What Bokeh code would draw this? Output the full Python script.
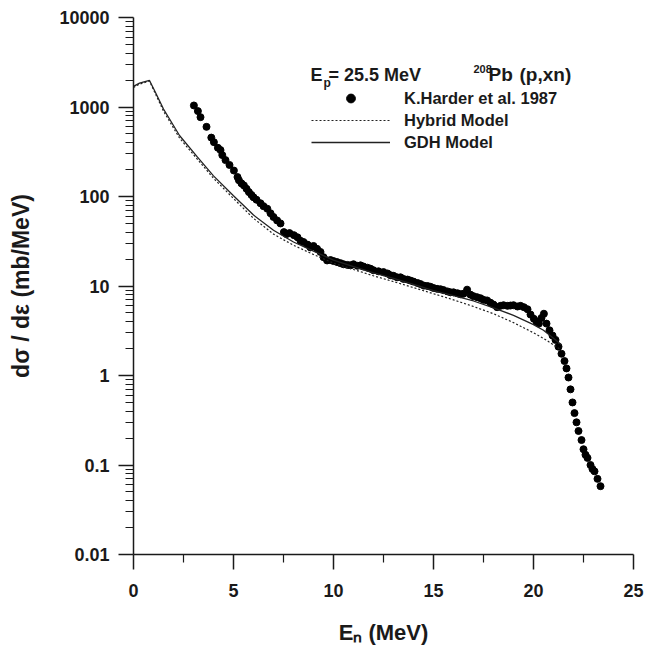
from bokeh.plotting import figure
from bokeh.models import (FixedTicker, CustomJSTickFormatter, Legend, LegendItem,
                          Label, Range1d)
from bokeh.embed import file_html
from bokeh.resources import INLINE

# ---- data ----
harder_e = [3.02, 3.22, 3.35, 3.65, 3.89, 4.02, 4.22, 4.35, 4.44, 4.6, 4.8, 5.02, 5.2, 5.27,
            5.4, 5.52, 5.65, 5.77, 5.9, 6.0, 6.15, 6.35, 6.5, 6.69, 6.85, 7.0, 7.18, 7.35,
            7.52, 7.65, 7.8, 8.02, 8.2, 8.35, 8.5, 8.7, 8.85, 9.0, 9.18, 9.35, 9.5, 9.68,
            9.85, 10.0, 10.18, 10.35, 10.5, 10.7, 10.85, 11.0, 11.2, 11.35, 11.5, 11.7,
            11.85, 12.0, 12.25, 12.5, 12.7, 12.85, 13.0, 13.18, 13.35, 13.5, 13.7, 13.85,
            14.0, 14.2, 14.35, 14.52, 14.7, 14.85, 15.0, 15.18, 15.35, 15.5, 15.7, 15.85,
            16.0, 16.2, 16.35, 16.5, 16.68, 16.85, 17.0, 17.18, 17.35, 17.5, 17.68, 17.85,
            18.0, 18.18, 18.35, 18.5, 18.7, 18.85, 19.0, 19.2, 19.35, 19.52, 19.7, 19.85,
            20.02, 20.15, 20.27, 20.4, 20.52, 20.65, 20.8, 20.95, 21.1, 21.25, 21.4, 21.55,
            21.65, 21.75, 21.85, 21.95, 22.05, 22.15, 22.25, 22.4, 22.5, 22.6, 22.7, 22.85,
            22.95, 23.05, 23.2, 23.35]
harder_v = [1040, 900, 770, 600, 455, 405, 350, 330, 290, 255, 225, 195, 165, 152,
            140, 133, 122, 112, 104, 98, 92, 84, 78, 73, 65, 59, 54, 50,
            40, 38, 39, 37, 35, 32, 31, 29, 27, 28, 26, 24, 21, 19.3,
            19.5, 19, 18.5, 18, 17.5, 17.2, 17, 17.5, 16.8, 17, 16.5, 16,
            15.6, 15, 14.6, 14.3, 13.8, 13.2, 13, 12.5, 12.5, 12, 11.8, 11.5,
            11.2, 10.8, 10.5, 10.1, 10, 9.8, 9.5, 9.3, 9.2, 9.0, 8.7, 8.5,
            8.5, 8.3, 8.1, 8.2, 9.1, 8.0, 7.7, 7.5, 7.3, 7.0, 6.9, 6.5,
            6.2, 5.8, 6.0, 6.1, 6.0, 6.05, 6.1, 5.9, 6.0, 5.8, 5.5, 4.8,
            4.3, 4.0, 3.8, 4.4, 4.9, 3.8, 3.2, 2.8, 2.5, 2.1, 1.75, 1.45,
            1.2, 0.95, 0.7, 0.5, 0.38, 0.3, 0.24, 0.19, 0.15, 0.13, 0.12, 0.1,
            0.09, 0.085, 0.07, 0.058]

gdh_e = [0, 0.3, 0.8, 1.1, 1.5, 2.3, 3.2, 4.0, 5.0, 6.0, 7.0, 8.0, 9.0, 10, 11, 12, 13,
         14, 15, 16, 17, 18, 19, 20, 20.5, 21, 21.4]
gdh_v = [1700, 1850, 1980, 1450, 950, 480, 275, 170, 102, 62, 42, 31, 24.5, 19.5, 16.5,
         14.0, 12.2, 10.4, 8.9, 7.8, 6.8, 5.7, 4.7, 3.7, 3.2, 2.6, 2.2]

hyb_e = [0, 0.3, 0.8, 1.1, 1.5, 2.3, 3.2, 4.0, 5.0, 6.0, 7.0, 8.0, 9.0, 10, 11, 12, 13,
         14, 15, 16, 17, 18, 19, 20, 20.5, 21, 21.35]
hyb_v = [1650, 1800, 1950, 1400, 900, 450, 260, 160, 95, 57, 38, 28.5, 22.5, 18, 15.3,
         13.0, 11.2, 9.6, 8.2, 7.0, 5.9, 4.9, 3.9, 3.0, 2.6, 2.2, 1.95]

x_ticks = [0, 5, 10, 15, 20, 25]
x_minor = [2.5, 7.5, 12.5, 17.5, 22.5]
y_ticks = [0.01, 0.1, 1, 10, 100, 1000, 10000]
y_minor = [m * 10.0 ** k for k in range(-2, 4) for m in range(2, 10)]

FONT = "Liberation Sans"
INK = "#1a1a1a"

p = figure(frame_width=500, frame_height=537, x_range=Range1d(0, 25),
           y_range=Range1d(0.01, 10000), y_axis_type="log",
           output_backend="svg", toolbar_location=None,
           min_border_left=133, min_border_top=17, min_border_bottom=96,
           min_border_right=15)
p.outline_line_color = None
p.grid.visible = False
p.background_fill_color = "white"

xa = p.xaxis[0]
xa.ticker = FixedTicker(ticks=x_ticks, minor_ticks=x_minor)
ya = p.yaxis[0]
ya.ticker = FixedTicker(ticks=y_ticks, minor_ticks=y_minor)
ya.formatter = CustomJSTickFormatter(code="return tick.toString()")

for ax in (xa, ya):
    ax.axis_line_color = INK
    ax.axis_line_width = 1.5
    ax.major_tick_line_color = INK
    ax.major_tick_line_width = 1.5
    ax.minor_tick_line_color = INK
    ax.minor_tick_line_width = 1.2
    ax.major_tick_in = 0
    ax.major_tick_out = 15
    ax.minor_tick_in = 0
    ax.minor_tick_out = 8
    ax.major_label_text_font = FONT
    ax.major_label_text_font_style = "bold"
    ax.major_label_text_font_size = "18px"
    ax.major_label_text_color = INK
    ax.axis_label_text_font = FONT
    ax.axis_label_text_font_style = "bold"
    ax.axis_label_text_color = INK
xa.major_label_standoff = 14
ya.major_label_standoff = 9
ya.axis_label = "dσ / dε (mb/MeV)"
ya.axis_label_text_font_size = "23px"
ya.axis_label_standoff = 22
xa.axis_label = "E\u2099 (MeV)"
xa.axis_label_text_font_size = "22px"
xa.axis_label_standoff = 20

r_pts = p.scatter(harder_e, harder_v, size=7, color="black")
r_hyb = p.line(hyb_e, hyb_v, line_dash="2 2", line_width=1.2, color="#222222")
r_gdh = p.line(gdh_e, gdh_v, line_width=1.3, color="#222222")

legend = Legend(items=[LegendItem(label="K.Harder et al. 1987", renderers=[r_pts]),
                       LegendItem(label="Hybrid Model", renderers=[r_hyb]),
                       LegendItem(label="GDH Model", renderers=[r_gdh])],
                location=(178, 401), glyph_width=79, glyph_height=22, label_height=22,
                label_standoff=14, spacing=0, padding=0, margin=0,
                border_line_color=None, background_fill_alpha=0,
                label_text_font=FONT, label_text_font_style="bold",
                label_text_font_size="16.5px", label_text_color=INK)
p.add_layout(legend)


def lab(text, x, y, size):
    p.add_layout(Label(x=x, y=y, text=text, text_font=FONT, text_font_style="bold",
                       text_font_size=size, text_color=INK, text_baseline="middle",
                       text_align="left"))


# legend heading  E_p= 25.5 MeV    208Pb (p,xn)
lab("E", 8.85, 10 ** 3.363, "18px")
lab("p", 9.5, 10 ** 3.27, "12px")
lab("= 25.5 MeV", 9.75, 10 ** 3.363, "18px")
lab("208", 17.0, 10 ** 3.42, "11px")
lab("Pb", 17.75, 10 ** 3.363, "19px")
lab("(p,xn)", 19.3, 10 ** 3.363, "19px")

open("out.html", "w").write(file_html(p, INLINE))
